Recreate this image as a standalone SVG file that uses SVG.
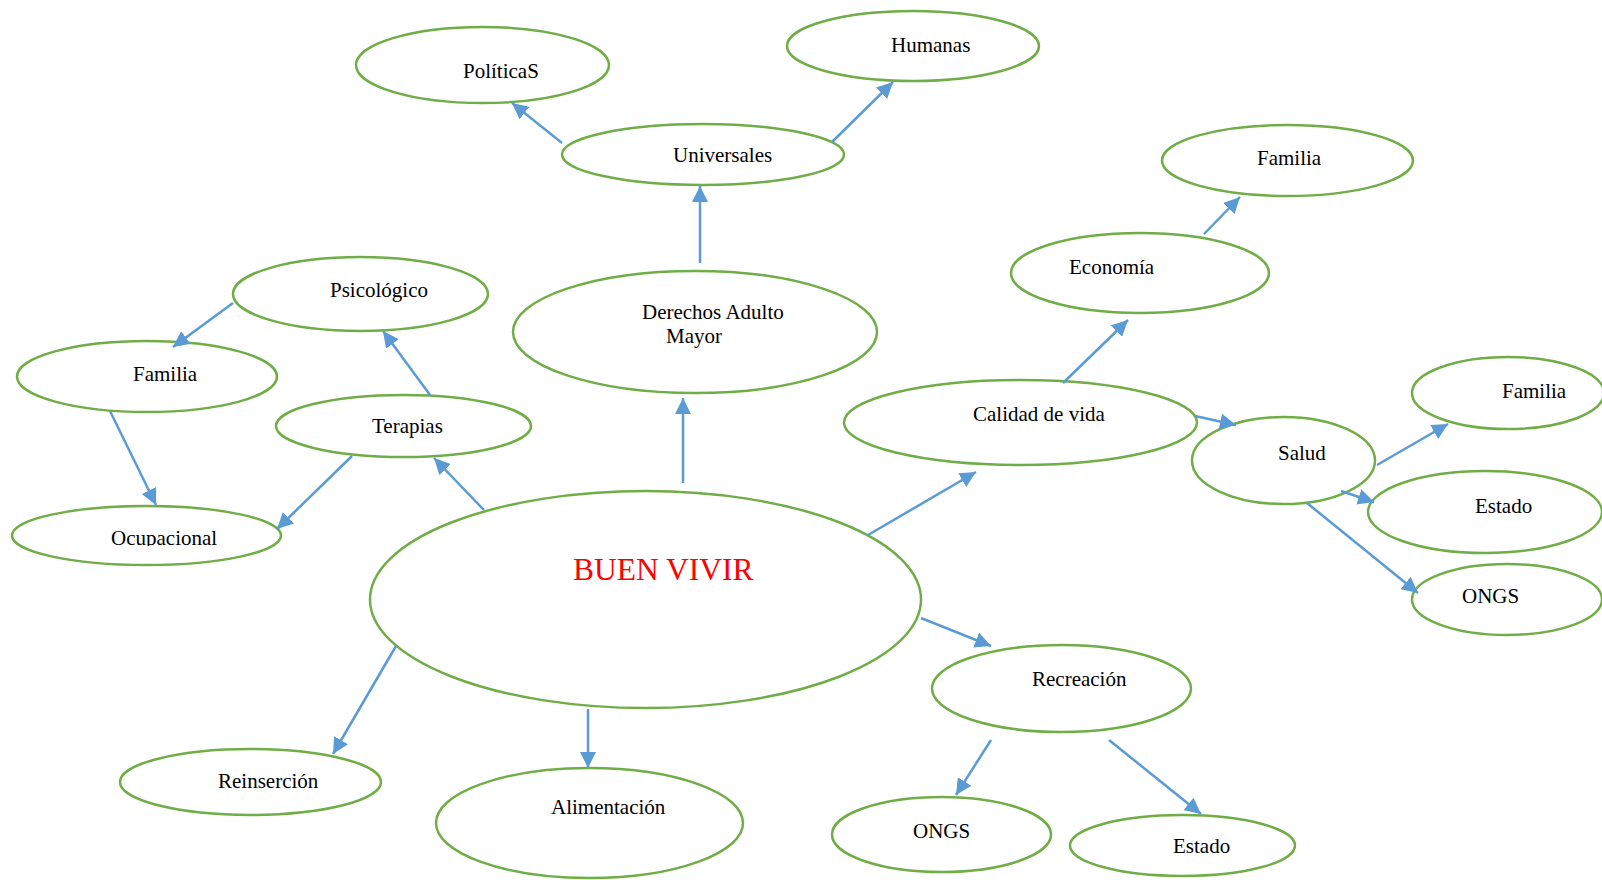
<svg xmlns="http://www.w3.org/2000/svg" width="1602" height="880" viewBox="0 0 1602 880">
<style>
.n{fill:#fff;stroke:#70AD47;stroke-width:2.5}
.t{font-family:"Liberation Serif","Times New Roman",serif;font-size:21px;fill:#000}
.big{font-family:"Liberation Serif","Times New Roman",serif;font-size:31.5px;fill:#FF0000}
.c line{stroke:#5B9BD5;stroke-width:2.5;marker-end:url(#ah)}
</style>
<defs>
<marker id="ah" markerUnits="userSpaceOnUse" markerWidth="16" markerHeight="16" refX="16" refY="8" orient="auto" viewBox="0 0 16 16">
<path d="M0,0 L16,8 L0,16 z" fill="#5B9BD5"/>
</marker>
<clipPath id="ocl"><rect x="0" y="480" width="400" height="66"/></clipPath>
</defs>
<rect width="1602" height="880" fill="#fff"/>

<g id="politicas"><ellipse class="n" cx="482.5" cy="65" rx="126.5" ry="38"/><text class="t" x="463" y="78">PolíticaS</text></g>
<g id="humanas"><ellipse class="n" cx="913" cy="46" rx="126" ry="35"/><text class="t" x="891" y="52">Humanas</text></g>
<g id="universales"><ellipse class="n" cx="703" cy="154.5" rx="141" ry="30.5"/><text class="t" x="673" y="162">Universales</text></g>
<g id="familia-top"><ellipse class="n" cx="1287.5" cy="160.5" rx="125.5" ry="35.5"/><text class="t" x="1257" y="165">Familia</text></g>
<g id="economia"><ellipse class="n" cx="1140" cy="273" rx="129" ry="40"/><text class="t" x="1069" y="274">Economía</text></g>
<g id="psicologico"><ellipse class="n" cx="360.5" cy="294" rx="127.5" ry="37"/><text class="t" x="330" y="297">Psicológico</text></g>
<g id="derechos"><ellipse class="n" cx="695" cy="332" rx="182" ry="61"/><text class="t" x="642" y="319">Derechos Adulto</text><text class="t" x="666" y="343">Mayor</text></g>
<g id="familia-left"><ellipse class="n" cx="147" cy="376.5" rx="130" ry="35.5"/><text class="t" x="133" y="381">Familia</text></g>
<g id="terapias"><ellipse class="n" cx="403.5" cy="426" rx="127.5" ry="31"/><text class="t" x="372" y="433">Terapias</text></g>
<g id="calidad"><ellipse class="n" cx="1020.5" cy="422.5" rx="176.5" ry="42.5"/><text class="t" x="973" y="421">Calidad de vida</text></g>
<g id="familia-right"><ellipse class="n" cx="1508" cy="393" rx="96" ry="36"/><text class="t" x="1502" y="398">Familia</text></g>
<g id="salud"><ellipse class="n" cx="1283.5" cy="460.5" rx="91.5" ry="43.5"/><text class="t" x="1278" y="460">Salud</text></g>
<g id="estado-right"><ellipse class="n" cx="1485" cy="512" rx="117" ry="41"/><text class="t" x="1475" y="513">Estado</text></g>
<g id="ocupacional"><ellipse class="n" cx="146.5" cy="535.5" rx="134.5" ry="29.5"/><text class="t" x="111" y="545" clip-path="url(#ocl)">Ocupacional</text></g>
<g id="buen-vivir"><ellipse class="n" cx="645.5" cy="599.5" rx="275.5" ry="108.5"/><text class="big" x="573" y="580">BUEN VIVIR</text></g>
<g id="ongs-right"><ellipse class="n" cx="1507" cy="599.5" rx="95" ry="35.5"/><text class="t" x="1462" y="603">ONGS</text></g>
<g id="recreacion"><ellipse class="n" cx="1061.5" cy="688.5" rx="129.5" ry="43.5"/><text class="t" x="1032" y="686">Recreación</text></g>
<g id="reinsercion"><ellipse class="n" cx="250.5" cy="782" rx="130.5" ry="33"/><text class="t" x="218" y="788">Reinserción</text></g>
<g id="alimentacion"><ellipse class="n" cx="589.5" cy="823" rx="153.5" ry="55"/><text class="t" x="551" y="814">Alimentación</text></g>
<g id="ongs-bottom"><ellipse class="n" cx="941.5" cy="834.5" rx="109.5" ry="37.5"/><text class="t" x="913" y="838">ONGS</text></g>
<g id="estado-bottom"><ellipse class="n" cx="1182.5" cy="845.5" rx="112.5" ry="30.5"/><text class="t" x="1173" y="853">Estado</text></g>

<g id="connectors" class="c">
<line x1="562" y1="143" x2="512" y2="103"/>
<line x1="832" y1="142" x2="893" y2="82"/>
<line x1="700" y1="263" x2="700" y2="186"/>
<line x1="1204" y1="234" x2="1240" y2="197"/>
<line x1="1063" y1="383" x2="1128" y2="320"/>
<line x1="233" y1="303" x2="173" y2="347"/>
<line x1="110" y1="411" x2="156" y2="505"/>
<line x1="430" y1="395" x2="383" y2="331"/>
<line x1="352" y1="456" x2="277" y2="529"/>
<line x1="683" y1="483" x2="683" y2="398"/>
<line x1="484" y1="510" x2="434" y2="458"/>
<line x1="868" y1="535" x2="976" y2="472"/>
<line x1="1195" y1="416" x2="1236" y2="425"/>
<line x1="1377" y1="465" x2="1448" y2="424"/>
<line x1="1341" y1="491" x2="1374" y2="502"/>
<line x1="1307" y1="503" x2="1418" y2="593"/>
<line x1="396" y1="646" x2="333" y2="754"/>
<line x1="588" y1="709" x2="588" y2="768"/>
<line x1="921" y1="618" x2="991" y2="646"/>
<line x1="991" y1="740" x2="956" y2="795"/>
<line x1="1109" y1="740" x2="1201" y2="814"/>
</g>
</svg>
